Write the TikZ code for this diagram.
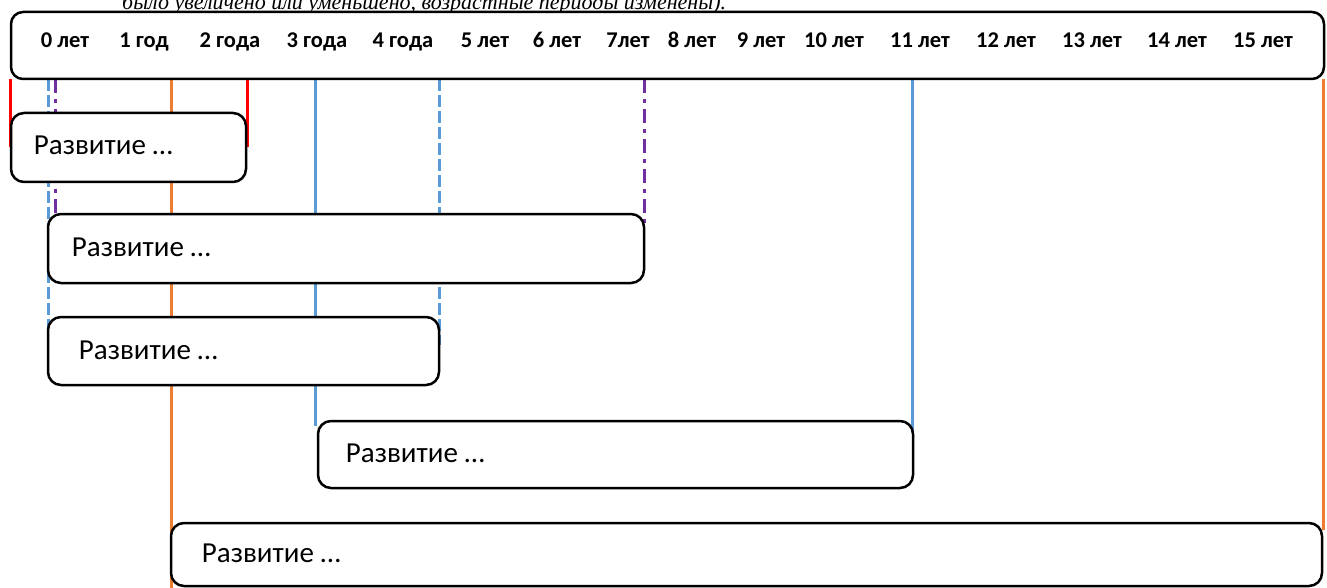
\documentclass[tikz,border=0pt]{standalone}
\usepackage{fontspec}
\setmainfont{Carlito}
\newfontfamily\serifit{Liberation Serif}
\begin{document}
\begin{tikzpicture}[x=1pt,y=-1pt,
  box/.style={draw=black,line width=2.5pt,rounded corners=13pt,fill=white,inner sep=0pt},
  yr/.style={anchor=base,font=\fontsize{22.5}{22.5}\selectfont\bfseries,inner sep=0pt},
  txt/.style={anchor=base west,font=\fontsize{29}{29}\selectfont,inner sep=0pt},
  redl/.style={draw={rgb,255:red,255;green,0;blue,0},line width=3pt},
  bluel/.style={draw={rgb,255:red,91;green,155;blue,213},line width=3pt},
  bluedash/.style={bluel,dash pattern=on 12pt off 4pt},
  orangel/.style={draw={rgb,255:red,237;green,125;blue,49},line width=3pt},
  purpledash/.style={draw={rgb,255:red,112;green,48;blue,160},line width=3pt,dash pattern=on 14pt off 6pt on 4pt off 6pt}]
\useasboundingbox (0,0) rectangle (1327,588);
\clip (0,0) rectangle (1327,588);
% cut-off caption line
\node[anchor=base west,inner sep=0pt,font=\serifit\itshape\fontsize{22}{22}\selectfont] (cap) at (122,9.5) {было увеличено или уменьшено, возрастные периоды изменены).};
% coordinates for marker lines
\coordinate (r1a) at (10,79);   \coordinate (r1b) at (10,147);
\coordinate (d1a) at (48.5,79); \coordinate (d1b) at (48.5,345);
\coordinate (p1a) at (55.5,79); \coordinate (p1b) at (55.5,222);
\coordinate (o1a) at (171,79);  \coordinate (o1b) at (171,588);
\coordinate (r2a) at (247,79);  \coordinate (r2b) at (247,147);
\coordinate (s1a) at (315,79);  \coordinate (s1b) at (315,426);
\coordinate (d2a) at (439,79);  \coordinate (d2b) at (439,345);
\coordinate (p2a) at (644,79);  \coordinate (p2b) at (644,227);
\coordinate (s2a) at (912,79);  \coordinate (s2b) at (912,448);
\coordinate (o2a) at (1323,79); \coordinate (o2b) at (1323,530);
\draw[redl] (r1a) -- (r1b);
\draw[redl] (r2a) -- (r2b);
\draw[bluedash] (d1a) -- (d1b);
\draw[bluedash] (d2a) -- (d2b);
\draw[purpledash] (p1a) -- (p1b);
\draw[purpledash] (p2a) -- (p2b);
\draw[orangel] (o1a) -- (o1b);
\draw[orangel] (o2a) -- (o2b);
\draw[bluel] (s1a) -- (s1b);
\draw[bluel] (s2a) -- (s2b);
% top scale box
\node[box,rounded corners=12pt,minimum width=1313pt,minimum height=67pt] (top) at (667.5,45.5) {};
\foreach \x/\t [count=\i] in {65/0 лет,144/1 год,230/2 года,317/3 года,403/4 года,485/5 лет,557/6 лет,628/7лет,692/8 лет,761/9 лет,834/10 лет,920/11 лет,1006/12 лет,1092/13 лет,1177/14 лет,1263/15 лет}
  \node[yr] (y\i) at (\x,48) {\t};
% period boxes
\node[box,minimum width=235pt,minimum height=69pt] (b1) at (128.5,147.5) {};
\node[box,minimum width=596pt,minimum height=69pt] (b2) at (346,248.5) {};
\node[box,minimum width=391pt,minimum height=68pt] (b3) at (243.5,351) {};
\node[box,minimum width=595pt,minimum height=67pt] (b4) at (615.5,454.5) {};
\node[box,minimum width=1151pt,minimum height=63pt] (b5) at (746.5,554.5) {};
\node[txt] (t1) at ([xshift=24pt,yshift=-7.5pt]b1.west) {Развитие …};
\node[txt] (t2) at ([xshift=25pt,yshift=-8pt]b2.west) {Развитие …};
\node[txt] (t3) at ([xshift=32pt,yshift=-8pt]b3.west) {Развитие …};
\node[txt] (t4) at ([xshift=29pt,yshift=-8pt]b4.west) {Развитие …};
\node[txt] (t5) at ([xshift=32pt,yshift=-8pt]b5.west) {Развитие …};
\end{tikzpicture}
\end{document}
